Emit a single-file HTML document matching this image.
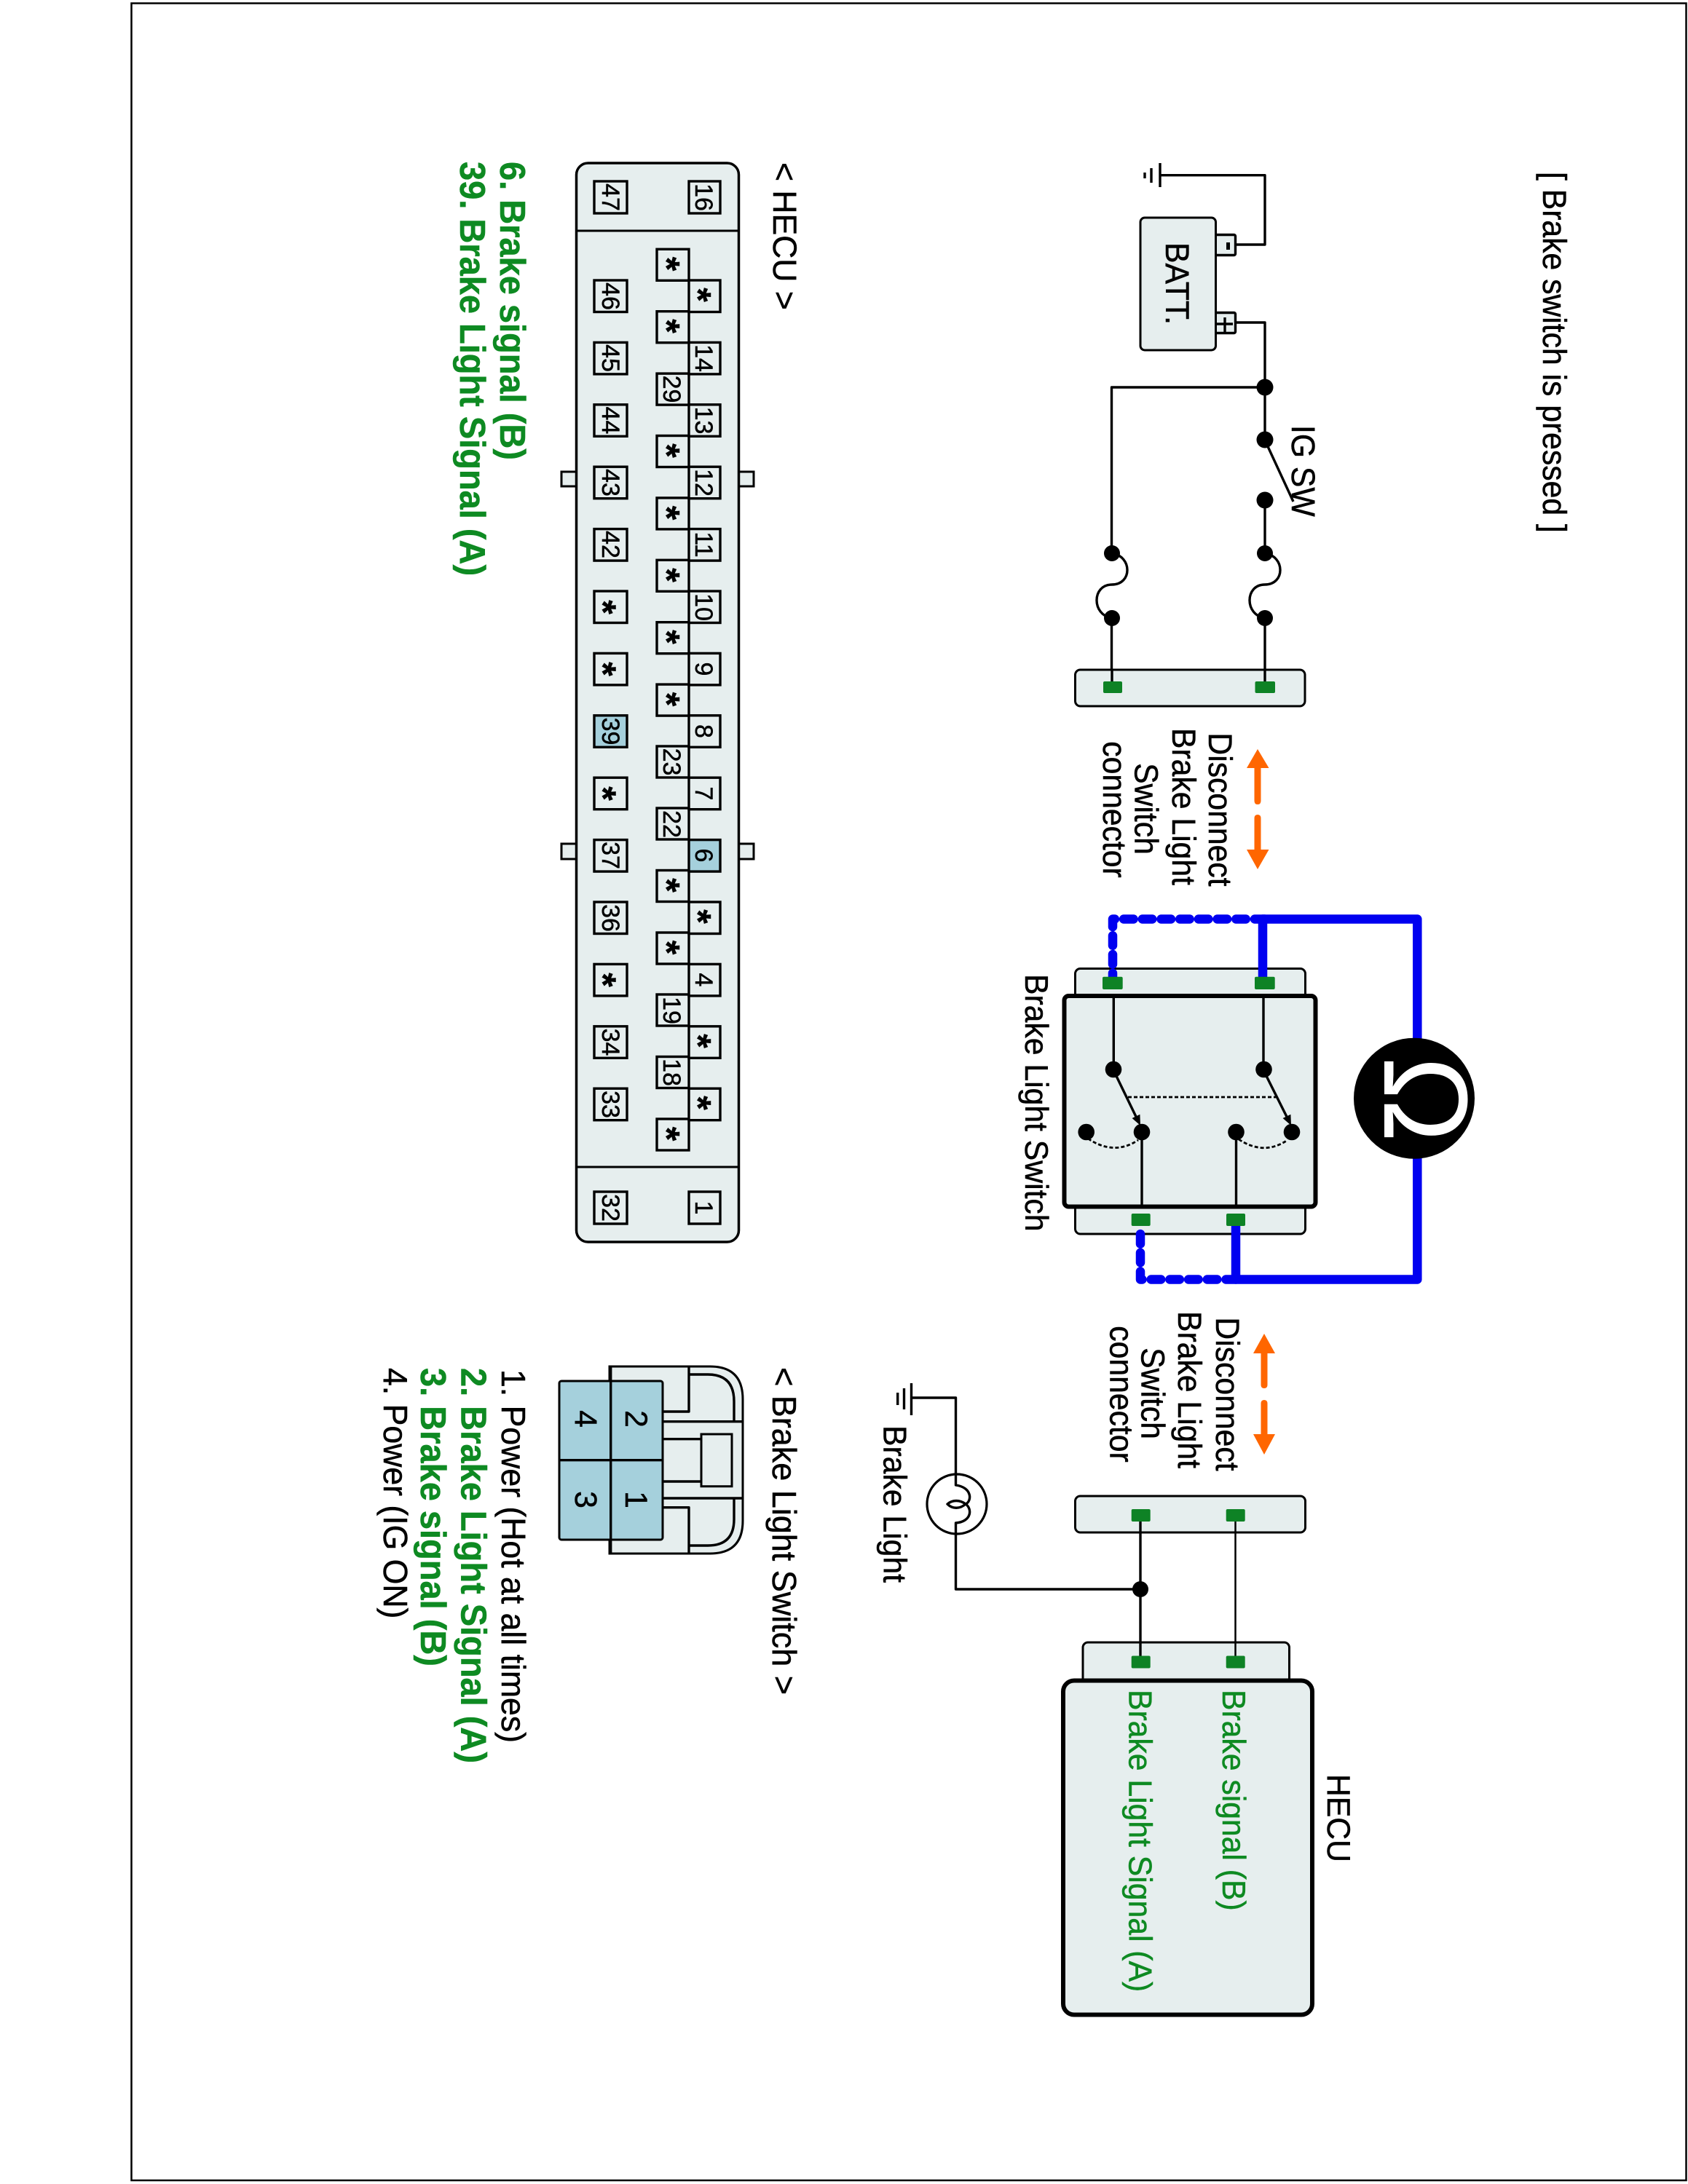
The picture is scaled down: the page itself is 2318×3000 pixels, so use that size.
<!DOCTYPE html>
<html><head><meta charset="utf-8"><title>Brake switch diagram</title>
<style>
html,body{margin:0;padding:0;background:#fff}
svg{display:block}
text{font-family:"Liberation Sans",sans-serif;fill:#000;stroke:#000;stroke-width:.5}
.g{fill:#0e8a22;stroke:#0e8a22}
.b{font-weight:bold}
.w{fill:none;stroke:#000;stroke-width:3.4;stroke-linejoin:round}
.c{fill:#e6eeee;stroke:#000;stroke-width:3}
.m{fill:#e6eeee;stroke:#000;stroke-width:6}
.p{fill:#0e8225}
.bl{fill:none;stroke:#0000f0;stroke-width:12.5;stroke-linejoin:round;stroke-linecap:round}
.d{stroke-dasharray:13.5 12.2}
.o{fill:#ff6600}
.r{fill:#e6eeee;stroke:#000;stroke-width:3.4}
.h{fill:#a5d0dc;stroke:#000;stroke-width:3.4}
.n{font-size:34px;text-anchor:middle}
.s{font-size:50px;font-weight:bold;text-anchor:middle}
.t{font-size:42.7px}
.a{text-anchor:middle}
</style></head><body>
<svg width="2318" height="3000" viewBox="0 0 2318 3000" xmlns="http://www.w3.org/2000/svg">
<rect width="2318" height="3000" fill="#fff"/>
<rect x="180.5" y="4.5" width="2135" height="2990.5" fill="none" stroke="#000" stroke-width="2.5"/>

<text class="t" transform="translate(2119,236) rotate(90) scale(1,1.07)">[ Brake switch is pressed ]</text>

<!-- battery section -->
<path class="w" d="M1593,224V257M1581,231V251M1572,237V245M1593,240.7H1737V336H1696"/>
<rect class="r" x="1669" y="322.500" width="27.500" height="28" rx="2"/>
<rect class="r" x="1669" y="429.500" width="27.500" height="28" rx="2"/>
<path class="w" d="M1669,445H1693M1682,436V457"/>
<rect x="1684" y="333" width="5" height="10" fill="#000"/>
<rect class="c" x="1566" y="299" width="103.500" height="182" rx="6" stroke-width="3.400"/>
<text class="t" transform="translate(1601,333) rotate(90) scale(1,1.07)">BATT.</text>
<path class="w" d="M1697,443H1737V604M1737,532H1526.500V849M1526.500,849V925M1737,687V925"/>
<rect x="1520" y="770" width="14" height="70" fill="#fff"/>
<rect x="1730" y="770" width="14" height="70" fill="#fff"/>
<path class="w" d="M1527,760C1555,764 1555,803 1527,803C1499,803 1499,845 1527,849"/>
<path class="w" d="M1737,760C1765,764 1765,803 1737,803C1709,803 1709,845 1737,849"/>
<g fill="#000">
<circle cx="1737" cy="532" r="11.500"/><circle cx="1737" cy="604" r="11.500"/><circle cx="1737" cy="687" r="11.500"/>
<circle cx="1737" cy="760" r="11"/><circle cx="1737" cy="849" r="11"/>
<circle cx="1527" cy="760" r="11"/><circle cx="1527" cy="849" r="11"/>
</g>
<path class="w" d="M1739,609L1776,689"/>
<text class="t" transform="translate(1774,584) rotate(90) scale(1,1.07)">IG SW</text>
<rect class="c" x="1476.500" y="920" width="315.500" height="50" rx="7"/>
<path class="w" d="M1527,920V940M1737,920V940"/>
<rect class="p" x="1515" y="936" width="26" height="16" rx="2"/>
<rect class="p" x="1723.500" y="936" width="27.500" height="16" rx="2"/>

<!-- upper arrows + labels -->
<path class="o" d="M1727,1029L1742.500,1055H1731.500V1100Q1731.500,1105 1727,1105Q1722.500,1105 1722.500,1100V1055H1712Z"/>
<path class="o" d="M1727,1194L1742.500,1167H1731.500V1124Q1731.500,1119 1727,1119Q1722.500,1119 1722.500,1124V1167H1712Z"/>
<g class="a">
<text class="t a" transform="translate(1660,1112) rotate(90) scale(1,1.07)">Disconnect</text>
<text class="t a" transform="translate(1610,1108) rotate(90) scale(1,1.07)">Brake Light</text>
<text class="t a" transform="translate(1558.500,1111) rotate(90) scale(1,1.07)">Switch</text>
<text class="t a" transform="translate(1515,1112) rotate(90) scale(1,1.07)">connector</text>
</g>

<!-- brake light switch -->
<rect class="c" x="1476.500" y="1330.500" width="316" height="50" rx="7"/>
<rect class="c" x="1476.500" y="1645" width="316" height="50" rx="7"/>
<path class="bl" d="M1734,1342V1262.500H1946.300V1500V1757.500H1697V1684"/>
<path class="bl d" d="M1736.500,1262.500H1528V1342"/>
<path class="bl d" d="M1697,1757.500H1566V1684"/>
<rect class="m" x="1461.500" y="1368" width="345" height="289.500" rx="6"/>
<rect class="p" x="1514" y="1341.700" width="27.700" height="17.300" rx="2"/>
<rect class="p" x="1723" y="1341.700" width="27.700" height="17.300" rx="2"/>
<rect class="p" x="1553.700" y="1667" width="26" height="17" rx="2"/>
<rect class="p" x="1684" y="1667" width="26" height="17" rx="2"/>
<path class="w" d="M1529.300,1370V1469M1735,1370V1469M1568,1555V1655M1697.500,1555V1655"/>
<path class="w" d="M1531,1474L1562,1538M1737,1474L1769,1538"/>
<polygon points="1566,1546 1565.400,1530.800 1554.600,1536" fill="#000"/>
<polygon points="1773,1546 1772.400,1530.800 1761.600,1536" fill="#000"/>
<path d="M1549,1507H1754" fill="none" stroke="#000" stroke-width="2.800" stroke-dasharray="5 3"/>
<path d="M1494,1564Q1530,1588 1563,1566M1701,1565Q1736,1588 1768,1566" fill="none" stroke="#000" stroke-width="2.800" stroke-dasharray="5 3"/>
<g fill="#000">
<circle cx="1529" cy="1469" r="11.300"/><circle cx="1735.500" cy="1469" r="11.300"/>
<circle cx="1491.700" cy="1555" r="11.300"/><circle cx="1568" cy="1555" r="11.300"/>
<circle cx="1697.500" cy="1555" r="11.300"/><circle cx="1774" cy="1555" r="11.300"/>
</g>
<text class="t" transform="translate(1408,1338) rotate(90) scale(1,1.05)">Brake Light Switch</text>
<circle cx="1942" cy="1508.700" r="83" fill="#000"/>
<text transform="translate(1901,1510) rotate(90) scale(.96,1)" text-anchor="middle" style="font-size:164px;fill:#fff;stroke:none">Ω</text>

<!-- lower arrows + labels -->
<path class="o" d="M1736,1832L1751,1859H1740.500V1902Q1740.500,1907 1736,1907Q1731.500,1907 1731.500,1902V1859H1721Z"/>
<path class="o" d="M1736,1998L1751,1970H1740.500V1928Q1740.500,1923 1736,1923Q1731.500,1923 1731.500,1928V1970H1721Z"/>
<text class="t a" transform="translate(1670,1915) rotate(90) scale(1,1.07)">Disconnect</text>
<text class="t a" transform="translate(1618,1909) rotate(90) scale(1,1.07)">Brake Light</text>
<text class="t a" transform="translate(1567.500,1914) rotate(90) scale(1,1.07)">Switch</text>
<text class="t a" transform="translate(1524.500,1915) rotate(90) scale(1,1.07)">connector</text>

<!-- brake light bulb -->
<path class="w" d="M1251.500,1900V1944M1241.500,1907V1936M1232.700,1913V1930M1251.500,1920H1312.500V2040C1335,2043 1335,2062 1326,2066C1318,2060 1308,2060 1301,2066C1308,2073 1318,2073 1326,2066C1335,2072 1335,2090 1312.500,2092V2183H1566"/>
<circle cx="1314" cy="2066" r="41" fill="none" stroke="#000" stroke-width="3.200"/>
<text class="t" transform="translate(1213.500,1958) rotate(90) scale(1,1.05)">Brake Light</text>

<!-- bottom connector + HECU -->
<rect class="c" x="1476.500" y="2055" width="316" height="50" rx="7"/>
<rect class="c" x="1487" y="2256" width="283.500" height="60" rx="7"/>
<path class="w" d="M1566,2090V2275"/>
<path d="M1696.500,2090V2275" fill="none" stroke="#000" stroke-width="2.500"/>
<circle cx="1566" cy="2183" r="11" fill="#000"/>
<rect class="p" x="1553.700" y="2073" width="26" height="17" rx="2"/>
<rect class="p" x="1683.700" y="2073" width="26" height="17" rx="2"/>
<rect class="p" x="1553.700" y="2274.500" width="26" height="17" rx="2"/>
<rect class="p" x="1683.700" y="2274.500" width="26" height="17" rx="2"/>
<rect class="m" x="1460" y="2308.500" width="342" height="459" rx="15"/>
<text class="t g" transform="translate(1679,2321) rotate(90) scale(1,1.05)">Brake signal (B)</text>
<text class="t g" transform="translate(1550.500,2321) rotate(90) scale(1,1.05)">Brake Light Signal (A)</text>
<text class="t" transform="translate(1823,2437) rotate(90) scale(1,1.05)">HECU</text>

<!-- HECU connector -->
<text class="t" style="font-size:44.500px" transform="translate(1062,223) rotate(90) scale(1,1.03)">&lt; HECU &gt;</text>
<rect class="c" x="771" y="648" width="30" height="20"/>
<rect class="c" x="771" y="1159" width="30" height="21"/>
<rect class="c" x="1005" y="648" width="30" height="20"/>
<rect class="c" x="1005" y="1159" width="30" height="21"/>
<rect x="791.500" y="224" width="223" height="1482" rx="16" fill="#e6eeee" stroke="#000" stroke-width="3.500"/>
<path d="M791,317H1015M791,1603H1015" stroke="#000" stroke-width="3" fill="none"/>

<g>
<rect class="r" x="816" y="249" width="45" height="44"/><text class="n" transform="translate(827,271) rotate(90)">47</text>
<rect class="r" x="946" y="249" width="43" height="44"/><text class="n" transform="translate(955,271) rotate(90)">16</text>
<rect class="r" x="816" y="1637" width="45" height="44"/><text class="n" transform="translate(827,1659) rotate(90)">32</text>
<rect class="r" x="946" y="1637" width="43" height="44"/><text class="n" transform="translate(955,1659) rotate(90)">1</text>

<rect class="r" x="816" y="385" width="45" height="43.500"/><text class="n" transform="translate(827,407) rotate(90)">46</text>
<rect class="r" x="816" y="470.400" width="45" height="43.500"/><text class="n" transform="translate(827,492) rotate(90)">45</text>
<rect class="r" x="816" y="555.800" width="45" height="43.500"/><text class="n" transform="translate(827,577.500) rotate(90)">44</text>
<rect class="r" x="816" y="641.200" width="45" height="43.500"/><text class="n" transform="translate(827,663) rotate(90)">43</text>
<rect class="r" x="816" y="726.600" width="45" height="43.500"/><text class="n" transform="translate(827,748) rotate(90)">42</text>
<rect class="r" x="816" y="812" width="45" height="43.500"/><text class="s" transform="translate(811,834) rotate(90)">*</text>
<rect class="r" x="816" y="897.400" width="45" height="43.500"/><text class="s" transform="translate(811,919) rotate(90)">*</text>
<rect class="h" x="816" y="982.800" width="45" height="43.500"/><text class="n" transform="translate(827,1004.500) rotate(90)">39</text>
<rect class="r" x="816" y="1068.200" width="45" height="43.500"/><text class="s" transform="translate(811,1090) rotate(90)">*</text>
<rect class="r" x="816" y="1153.600" width="45" height="43.500"/><text class="n" transform="translate(827,1175) rotate(90)">37</text>
<rect class="r" x="816" y="1239" width="45" height="43.500"/><text class="n" transform="translate(827,1261) rotate(90)">36</text>
<rect class="r" x="816" y="1324.400" width="45" height="43.500"/><text class="s" transform="translate(811,1346) rotate(90)">*</text>
<rect class="r" x="816" y="1409.800" width="45" height="43.500"/><text class="n" transform="translate(827,1431.500) rotate(90)">34</text>
<rect class="r" x="816" y="1495.200" width="45" height="43.500"/><text class="n" transform="translate(827,1517) rotate(90)">33</text>

<rect class="r" x="902" y="342.300" width="44" height="43"/><text class="s" transform="translate(898.500,362.500) rotate(90)">*</text>
<rect class="r" x="902" y="427.700" width="44" height="43"/><text class="s" transform="translate(898.500,448) rotate(90)">*</text>
<rect class="r" x="902" y="513.100" width="44" height="43"/><text class="n" transform="translate(911,534.500) rotate(90)">29</text>
<rect class="r" x="902" y="598.500" width="44" height="43"/><text class="s" transform="translate(898.500,619) rotate(90)">*</text>
<rect class="r" x="902" y="683.900" width="44" height="43"/><text class="s" transform="translate(898.500,704.500) rotate(90)">*</text>
<rect class="r" x="902" y="769.300" width="44" height="43"/><text class="s" transform="translate(898.500,790) rotate(90)">*</text>
<rect class="r" x="902" y="854.700" width="44" height="43"/><text class="s" transform="translate(898.500,875) rotate(90)">*</text>
<rect class="r" x="902" y="940.100" width="44" height="43"/><text class="s" transform="translate(898.500,960.500) rotate(90)">*</text>
<rect class="r" x="902" y="1025" width="44" height="43"/><text class="n" transform="translate(911,1046.500) rotate(90)">23</text>
<rect class="r" x="902" y="1110" width="44" height="43"/><text class="n" transform="translate(911,1132) rotate(90)">22</text>
<rect class="r" x="902" y="1195.500" width="44" height="43"/><text class="s" transform="translate(898.500,1216) rotate(90)">*</text>
<rect class="r" x="902" y="1281" width="44" height="43"/><text class="s" transform="translate(898.500,1301.500) rotate(90)">*</text>
<rect class="r" x="902" y="1366" width="44" height="43"/><text class="n" transform="translate(911,1388) rotate(90)">19</text>
<rect class="r" x="902" y="1451.500" width="44" height="43"/><text class="n" transform="translate(911,1473) rotate(90)">18</text>
<rect class="r" x="902" y="1537" width="44" height="43"/><text class="s" transform="translate(898.500,1557.500) rotate(90)">*</text>

<rect class="r" x="946" y="385" width="43" height="43.500"/><text class="s" transform="translate(941.500,405) rotate(90)">*</text>
<rect class="r" x="946" y="470.400" width="43" height="43.500"/><text class="n" transform="translate(955,492) rotate(90)">14</text>
<rect class="r" x="946" y="555.800" width="43" height="43.500"/><text class="n" transform="translate(955,577.500) rotate(90)">13</text>
<rect class="r" x="946" y="641.200" width="43" height="43.500"/><text class="n" transform="translate(955,663) rotate(90)">12</text>
<rect class="r" x="946" y="726.600" width="43" height="43.500"/><text class="n" transform="translate(955,748) rotate(90)">11</text>
<rect class="r" x="946" y="812" width="43" height="43.500"/><text class="n" transform="translate(955,834) rotate(90)">10</text>
<rect class="r" x="946" y="897.400" width="43" height="43.500"/><text class="n" transform="translate(955,919) rotate(90)">9</text>
<rect class="r" x="946" y="982.800" width="43" height="43.500"/><text class="n" transform="translate(955,1004.500) rotate(90)">8</text>
<rect class="r" x="946" y="1068.200" width="43" height="43.500"/><text class="n" transform="translate(955,1090) rotate(90)">7</text>
<rect class="h" x="946" y="1153.600" width="43" height="43.500"/><text class="n" transform="translate(955,1175) rotate(90)">6</text>
<rect class="r" x="946" y="1239" width="43" height="43.500"/><text class="s" transform="translate(941.500,1259) rotate(90)">*</text>
<rect class="r" x="946" y="1324.400" width="43" height="43.500"/><text class="n" transform="translate(955,1346) rotate(90)">4</text>
<rect class="r" x="946" y="1409.800" width="43" height="43.500"/><text class="s" transform="translate(941.500,1430) rotate(90)">*</text>
<rect class="r" x="946" y="1495.200" width="43" height="43.500"/><text class="s" transform="translate(941.500,1515) rotate(90)">*</text>
</g>

<text class="g b" style="font-size:47px" transform="translate(687,222) rotate(90) scale(1,1.05)">6. Brake signal (B)</text>
<text class="g b" style="font-size:47px" transform="translate(632,222) rotate(90) scale(1,1.05)">39. Brake Light Signal (A)</text>

<!-- brake light switch connector view -->
<text class="t" style="font-size:45px" transform="translate(1061,1878) rotate(90) scale(1,1.03)">&lt; Brake Light Switch &gt;</text>
<path d="M837,1877H975Q1020,1877 1020,1922V2089Q1020,2134 975,2134H837Z" fill="#e6eeee" stroke="#000" stroke-width="3"/>
<path class="w" d="M946,1877V1939H905M946,1888H972Q1008,1888 1008,1925V1952M905,1952.700H1020M905,2058H1020M1008,2058V2087Q1008,2123 972,2123H946M905,2070.700H946V2134M905,1976.700H963M905,2035H963"/>
<rect x="963" y="1970" width="42" height="71.700" fill="#e6eeee" stroke="#000" stroke-width="3"/>
<rect x="768" y="1897" width="142" height="218" rx="3" fill="#a5d0dc" stroke="#000" stroke-width="3"/>
<path class="w" d="M838.700,1877V1897M838.700,1897V2115M838.700,2115V2134M768,2005.700H910"/>
<text class="t a" transform="translate(859,1949) rotate(90)">2</text>
<text class="t a" transform="translate(859,2060) rotate(90)">1</text>
<text class="t a" transform="translate(790,1949) rotate(90)">4</text>
<text class="t a" transform="translate(790,2060) rotate(90)">3</text>

<text style="font-size:44.600px" transform="translate(689,1881) rotate(90) scale(1,1.03)">1. Power (Hot at all times)</text>
<text class="g b" style="font-size:47px" transform="translate(633.500,1879) rotate(90) scale(1,1.05)">2. Brake Light Signal (A)</text>
<text class="g b" style="font-size:47px" transform="translate(578,1879) rotate(90) scale(1,1.05)">3. Brake signal (B)</text>
<text style="font-size:44.600px" transform="translate(527,1879) rotate(90) scale(1,1.03)">4. Power (IG ON)</text>
</svg>
</body></html>
